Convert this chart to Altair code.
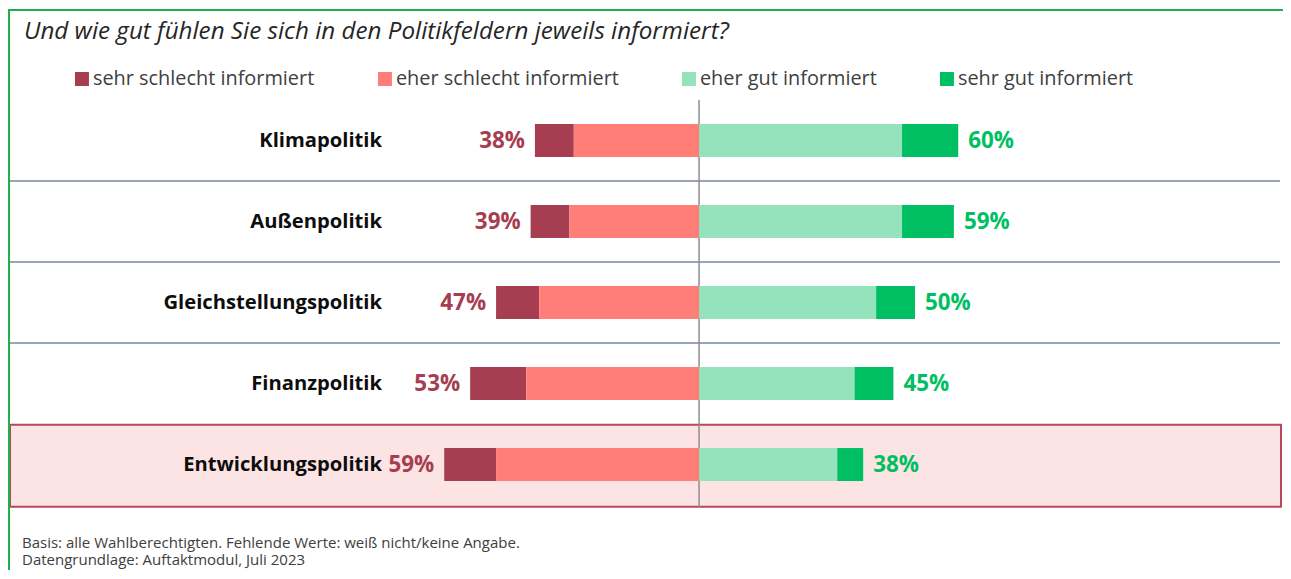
import altair as alt
import pandas as pd

CATEGORIES = ["Klimapolitik", "Außenpolitik", "Gleichstellungspolitik", "Finanzpolitik", "Entwicklungspolitik"]
SEHR_SCHLECHT = [9, 9, 10, 13, 12]
EHER_SCHLECHT = [29, 30, 37, 40, 47]
EHER_GUT = [47, 47, 41, 36, 32]
SEHR_GUT = [13, 12, 9, 9, 6]
NEG_TOTAL_LABELS = ["38%", "39%", "47%", "53%", "59%"]
POS_TOTAL_LABELS = ["60%", "59%", "50%", "45%", "38%"]
SERIES = ["sehr schlecht informiert", "eher schlecht informiert", "eher gut informiert", "sehr gut informiert"]
COLORS = ["#A63D50", "#FF7F78", "#94E3BC", "#00BF63"]
HIGHLIGHT = "Entwicklungspolitik"
TITLE = "Und wie gut fühlen Sie sich in den Politikfeldern jeweils informiert?"
FOOTNOTE_1 = "Basis: alle Wahlberechtigten. Fehlende Werte: weiß nicht/keine Angabe."
FOOTNOTE_2 = "Datengrundlage: Auftaktmodul, Juli 2023"

FONT = "Open Sans"

seg_rows = []
tot_rows = []
for i, cat in enumerate(CATEGORIES):
    ss, es, eg, sg = SEHR_SCHLECHT[i], EHER_SCHLECHT[i], EHER_GUT[i], SEHR_GUT[i]
    seg_rows += [
        {"cat": cat, "idx": i, "series": SERIES[0], "rank": 0, "start": -(ss + es), "stop": -es},
        {"cat": cat, "idx": i, "series": SERIES[1], "rank": 1, "start": -es, "stop": 0},
        {"cat": cat, "idx": i, "series": SERIES[2], "rank": 2, "start": 0, "stop": eg},
        {"cat": cat, "idx": i, "series": SERIES[3], "rank": 3, "start": eg, "stop": eg + sg},
    ]
    tot_rows.append({"cat": cat, "idx": i, "neg": -(ss + es), "pos": eg + sg,
                     "neg_label": NEG_TOTAL_LABELS[i], "pos_label": POS_TOTAL_LABELS[i]})
segs = pd.DataFrame(seg_rows)
tots = pd.DataFrame(tot_rows)
cats_df = pd.DataFrame({"cat": CATEGORIES, "idx": list(range(len(CATEGORIES)))})
one = pd.DataFrame({"k": [0]})

W, H = 1275, 562
X_SCALE = alt.Scale(domain=[-160, 135.2], nice=False, zero=False, padding=0)
Y_SCALE = alt.Scale(domain=[-1.636, 5.302], reverse=True, nice=False, zero=False, padding=0)


def yq(field):
    return alt.Y(field, type="quantitative", scale=Y_SCALE, axis=None)


def xq(field):
    return alt.X(field, type="quantitative", scale=X_SCALE, axis=None)


box = alt.Chart(cats_df).transform_filter(
    alt.datum.cat == HIGHLIGHT
).transform_calculate(
    y0="datum.idx - 0.49", y1="datum.idx + 0.52"
).mark_rect(fill="#FDE4E4", stroke="#B5495B", strokeWidth=2).encode(
    y=yq("y0"), y2="y1:Q", x=alt.value(2), x2=alt.value(1273)
)

seps = alt.Chart(cats_df).transform_filter(
    (alt.datum.idx >= 1) & (alt.datum.idx <= 3)
).transform_calculate(
    ys="datum.idx - 0.5"
).mark_rule(color="#9AA6B8", strokeWidth=2).encode(
    y=yq("ys"), x=alt.value(2), x2=alt.value(1272)
)

center = alt.Chart(one).transform_calculate(x0="0").mark_rule(color="#8E8E8E", strokeWidth=1.5).encode(
    x=xq("x0"), y=alt.value(92), y2=alt.value(499)
)

bars = alt.Chart(segs).mark_bar(size=33).encode(
    y=yq("idx"),
    x=xq("start"),
    x2="stop:Q",
    color=alt.Color(
        "series:N",
        scale=alt.Scale(domain=SERIES, range=COLORS),
        legend=alt.Legend(
            title=None, orient="none", legendX=64, legendY=61, direction="horizontal",
            symbolType="square", symbolSize=196, symbolStrokeWidth=0, symbolOpacity=1,
            labelFont=FONT, labelFontSize=19.9, labelColor="#404040", labelLimit=0,
            labelOffset=1, columnPadding=60,
        ),
    ),
    order="rank:Q",
)

neg_lab = alt.Chart(tots).mark_text(
    align="right", baseline="middle", dx=-10, font=FONT, fontSize=22.4, fontWeight="bold", color="#A63D50"
).encode(y=yq("idx"), x=xq("neg"), text="neg_label:N")

pos_lab = alt.Chart(tots).mark_text(
    align="left", baseline="middle", dx=10, font=FONT, fontSize=22.4, fontWeight="bold", color="#00BF63"
).encode(y=yq("idx"), x=xq("pos"), text="pos_label:N")

cat_lab = alt.Chart(cats_df).transform_calculate(lx="-73.4").mark_text(
    align="right", baseline="middle", font=FONT, fontSize=20.2, fontWeight="bold", color="#0D0D0D"
).encode(y=yq("idx"), x=xq("lx"), text="cat:N")

title = alt.Chart(one).mark_text(
    align="left", baseline="middle", font=FONT, fontSize=24.2, fontStyle="italic", color="#262626"
).encode(x=alt.value(16), y=alt.value(24), text=alt.value(TITLE))

foot1 = alt.Chart(one).mark_text(
    align="left", baseline="middle", font=FONT, fontSize=15, color="#404040"
).encode(x=alt.value(14), y=alt.value(535), text=alt.value(FOOTNOTE_1))

foot2 = alt.Chart(one).mark_text(
    align="left", baseline="middle", font=FONT, fontSize=15, color="#404040"
).encode(x=alt.value(14), y=alt.value(552), text=alt.value(FOOTNOTE_2))

frame_top = alt.Chart(one).mark_rule(color="#1FAF4B", strokeWidth=2).encode(
    x=alt.value(0), x2=alt.value(W), y=alt.value(2)
)
frame_left = alt.Chart(one).mark_rule(color="#1FAF4B", strokeWidth=2).encode(
    x=alt.value(1), y=alt.value(1), y2=alt.value(H)
)

chart = alt.layer(
    box, seps, center, bars, neg_lab, pos_lab, cat_lab, title, foot1, foot2, frame_top, frame_left
).properties(
    width=W, height=H, autosize=alt.AutoSizeParams(type="none"), padding=0, background="white"
).configure_view(strokeWidth=0)

chart.save("out.html", embed_options={"renderer": "svg", "actions": False})
